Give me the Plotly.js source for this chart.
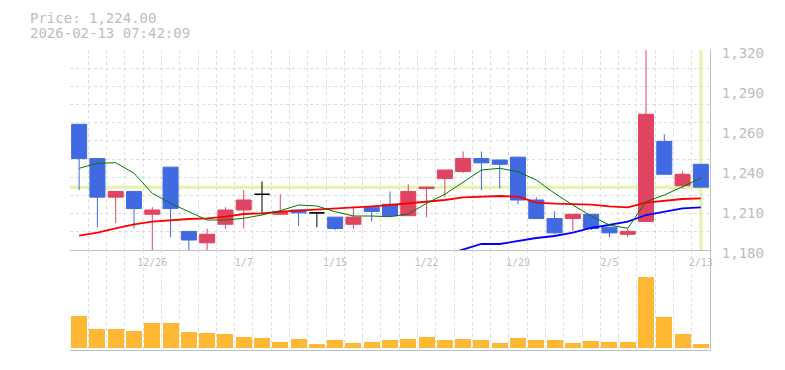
<!DOCTYPE html>
<html>
<head>
<meta charset="utf-8">
<script src="https://cdn.plot.ly/plotly-3.0.1.min.js"></script>
<style>
html,body{margin:0;padding:0;background:#fff;}
#chart{width:785px;height:370px;}
</style>
</head>
<body>
<div id="chart"></div>
<script>
// ---- data ----
const dates = ['12/22','12/23','12/24','12/25','12/26','12/29','12/30',
  '1/5','1/6','1/7','1/8','1/9','1/13','1/14','1/15','1/16',
  '1/19','1/20','1/21','1/22','1/23','1/26','1/27','1/28','1/29','1/30',
  '2/2','2/3','2/4','2/5','2/6','2/9','2/10','2/12','2/13'];
const labelDates = ['12/26','1/7','1/15','1/22','1/29','2/5','2/13'];

const open  = [1268,1244,1217,1221,1205,1238,1193,1185,1198,1208,1219,1205,1208,1206,1203,1198,1210,1212,1204,1223,1230,1235,1244,1243,1245,1215,1202,1202,1205,1196,1191,1200,1256,1225,1240];
const high  = [1268,1244,1221,1221,1210,1238,1193,1195,1210,1222,1228,1219,1208,1206,1203,1210,1210,1221,1226,1224,1236,1249,1249,1243,1245,1217,1207,1205,1205,1196,1195,1330,1261,1235,1240];
const low   = [1222,1196,1199,1195,1178,1189,1178,1178,1195,1195,1205,1205,1197,1196,1194,1195,1200,1204,1204,1203,1217,1234,1222,1223,1212,1202,1191,1193,1194,1189,1189,1200,1233,1223,1224];
const close = [1244,1217,1221,1209,1208,1209,1187,1191,1208,1215,1219,1207,1206,1206,1195,1203,1207,1204,1221,1224,1236,1244,1241,1240,1215,1202,1192,1205,1195,1192,1193,1275,1233,1233,1224];

const ma5  = [1237.2,1240.7,1241.1,1233.7,1219.7,1212.7,1206.8,1201.0,1201.0,1202.2,1204.5,1207.5,1211.5,1210.8,1206.8,1203.8,1203.8,1203.3,1205.2,1212.7,1219.0,1227.5,1236.0,1237.2,1234.8,1229.0,1219.7,1211.5,1203.8,1197.5,1195.2,1213.8,1218.5,1224.3,1230.4];
const ma25 = [1190.0,1192.1,1195.2,1198.0,1199.8,1201.0,1201.7,1202.2,1203.3,1205.2,1205.7,1206.8,1207.5,1208.0,1208.7,1209.6,1210.6,1211.5,1212.7,1213.4,1215.0,1216.8,1217.5,1217.8,1217.3,1213.1,1212.4,1212.0,1211.7,1210.6,1209.9,1213.1,1214.5,1215.7,1216.2];
const ma75 = [null,null,null,null,null,null,null,null,null,null,null,null,null,null,null,null,null,null,null,null,1176.5,1180.2,1184.2,1184.2,1186.3,1188.4,1189.8,1192.1,1195.4,1197.7,1199.8,1204.5,1207.1,1209.2,1209.9];

// volume, thousand shares
const volume = [31.7,18.7,18.7,16.7,24.7,24.7,15.7,14.7,13.7,10.7,9.7,5.7,8.7,3.7,7.7,4.7,5.7,7.7,8.7,10.7,7.7,8.7,7.7,4.7,9.7,7.7,7.7,4.7,6.7,5.7,5.7,70.7,30.7,13.7,3.7];

const priceTickVals = [1180,1208,1236,1264,1292,1320];
const priceTickText = ['1,180','1,210','1,240','1,260','1,290','1,320'];
const timestamp = '2026-02-13 07:42:09';

// ---- styles ----
const RED = '#e04462', BLUE = '#4169e1', BLACK = '#000000';
const VOL = '#ffb833', NOW = '#e5f3a6';
const GRID = '#dcdcdc', AXIS = '#c0c0c0', TXT = '#bdbdbd';
const MONO = '"DejaVu Sans Mono", monospace';

const idx = dates.map((d, i) => i);
const pick = (arr, keep) => arr.filter((v, i) => keep(i));
const isDoji = i => open[i] === close[i];
const notDoji = i => !isDoji(i);

const lastI = idx[idx.length - 1];
const lastClose = close[close.length - 1];

const traces = [
  {type:'scatter', mode:'lines', x:idx, y:ma25, line:{color:'#ff0000', width:1.8}, hoverinfo:'skip', xaxis:'x', yaxis:'y'},
  {type:'scatter', mode:'lines', x:idx, y:ma75, line:{color:'#0000ff', width:1.8}, hoverinfo:'skip', xaxis:'x', yaxis:'y', connectgaps:false},
  {type:'scatter', mode:'lines', x:idx, y:ma5, line:{color:'#007a00', width:1}, hoverinfo:'skip', xaxis:'x', yaxis:'y'},
  {type:'candlestick', x:pick(idx, notDoji), open:pick(open, notDoji), high:pick(high, notDoji),
   low:pick(low, notDoji), close:pick(close, notDoji),
   increasing:{line:{color:RED, width:1}, fillcolor:RED},
   decreasing:{line:{color:BLUE, width:1}, fillcolor:BLUE},
   whiskerwidth:0, hoverinfo:'skip', xaxis:'x', yaxis:'y'},
  {type:'candlestick', x:pick(idx, isDoji), open:pick(open, isDoji), high:pick(high, isDoji),
   low:pick(low, isDoji), close:pick(close, isDoji),
   increasing:{line:{color:BLACK, width:1}, fillcolor:BLACK},
   decreasing:{line:{color:BLACK, width:1}, fillcolor:BLACK},
   whiskerwidth:0, hoverinfo:'skip', xaxis:'x', yaxis:'y'},
  {type:'bar', x:idx, y:volume, width:0.875, marker:{color:VOL, line:{width:0}}, hoverinfo:'skip', xaxis:'x2', yaxis:'y2'}
];

const minorX = {tickmode:'linear', tick0:-0.5, dtick:1, showgrid:true, gridcolor:GRID, griddash:'3px,3px', gridwidth:1, ticks:''};

const layout = {
  width:785, height:370,
  margin:{l:70, r:75, t:50, b:20},
  paper_bgcolor:'#ffffff', plot_bgcolor:'#ffffff',
  showlegend:false, hovermode:false,
  boxgap:0.18, boxgroupgap:0,
  bargap:0,
  xaxis:{type:'linear', range:[-0.5, lastI + 0.5], anchor:'y', showline:true, linecolor:AXIS, linewidth:1,
    showgrid:false, zeroline:false, tickmode:'array',
    tickvals:labelDates.map(d => dates.indexOf(d)), ticktext:labelDates,
    ticks:'', tickfont:{family:MONO, size:10, color:TXT}, ticklabelstandoff:3,
    minor:minorX, rangeslider:{visible:false}, fixedrange:true},
  xaxis2:{type:'linear', matches:'x', anchor:'y2', showline:true, linecolor:AXIS, linewidth:1,
    showgrid:false, zeroline:false, showticklabels:false, ticks:'', minor:minorX,
    rangeslider:{visible:false}, fixedrange:true},
  yaxis:{domain:[1/3, 1], range:[1180, 1320], side:'right', anchor:'x', showline:true, linecolor:AXIS, linewidth:1,
    showgrid:false, zeroline:false, tickmode:'array', tickvals:priceTickVals, ticktext:priceTickText,
    ticks:'', tickfont:{family:MONO, size:14, color:TXT}, ticklabelstandoff:8, ticklabelshift:3,
    minor:{tickmode:'linear', tick0:1180, dtick:140/11, showgrid:true, gridcolor:GRID, griddash:'3px,3px', gridwidth:1, ticks:''},
    fixedrange:true},
  yaxis2:{domain:[0, 1/3], range:[-2.3, 97.7], side:'right', anchor:'x2', showline:true, linecolor:AXIS, linewidth:1,
    showgrid:false, zeroline:false, showticklabels:false, ticks:'', fixedrange:true},
  shapes:[
    {type:'line', xref:'paper', x0:0, x1:1, yref:'y', y0:lastClose, y1:lastClose,
     line:{color:NOW, width:3}, layer:'below'},
    {type:'line', xref:'x', x0:lastI, x1:lastI, yref:'paper', y0:1/3, y1:1,
     line:{color:NOW, width:3}, layer:'below'}
  ],
  annotations:[
    {xref:'paper', yref:'paper', x:-0.066, y:(350-18.3)/300, xanchor:'left', yanchor:'middle', showarrow:false,
     text:'Price: ' + lastClose.toLocaleString('en-US', {minimumFractionDigits:2, maximumFractionDigits:2}),
     font:{family:MONO, size:14, color:TXT}},
    {xref:'paper', yref:'paper', x:-0.066, y:(350-33.3)/300, xanchor:'left', yanchor:'middle', showarrow:false,
     text:timestamp, font:{family:MONO, size:14, color:TXT}}
  ]
};

Plotly.newPlot('chart', traces, layout, {displayModeBar:false, staticPlot:true});
</script>
</body>
</html>
